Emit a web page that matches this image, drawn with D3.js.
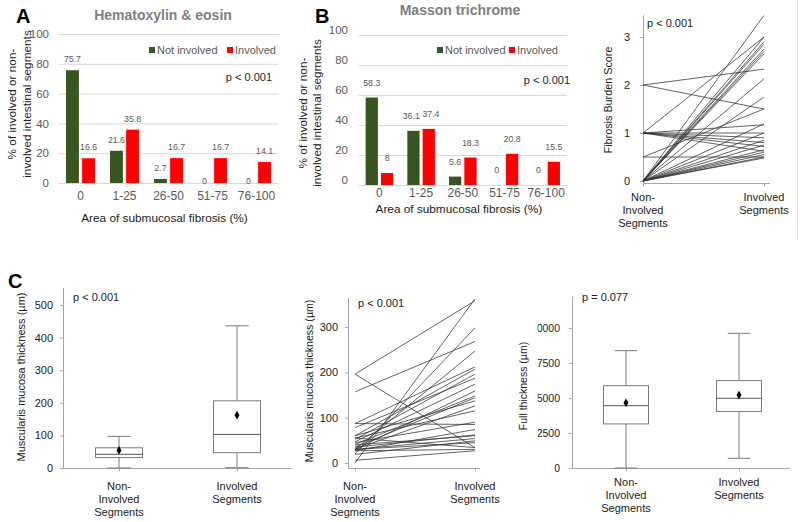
<!DOCTYPE html>
<html><head><meta charset="utf-8">
<script src="https://cdn.jsdelivr.net/npm/d3@7"></script>
<style>body{margin:0;background:#fff}svg{font-family:"Liberation Sans",Arial,sans-serif;display:block}</style>
</head><body><svg id="c" width="800" height="522"></svg>
<script>
// ---------- DATA ----------
const fibroCategories = ["0", "1-25", "26-50", "51-75", "76-100"];
const heNotInvolved = [75.7, 21.6, 2.7, 0, 0];
const heInvolved = [16.6, 35.8, 16.7, 16.7, 14.1];
const mtNotInvolved = [58.3, 36.1, 5.6, 0, 0];
const mtInvolved = [8, 37.4, 18.3, 20.8, 15.5];
const pctTicks = [0, 20, 40, 60, 80, 100];
const legendLabels = ["Not involved", "Involved"];

const segmentGroups = ["Non-Involved Segments", "Involved Segments"];

// Fibrosis burden score per patient: non-involved -> involved
const fibStart = [0,0,0,0,0,0,0,0,0,0,0,0,0,0,0,0,0,0, 0.5,0.5, 1,1,1,1,1,1,1, 2,2];
const fibEnd   = [3.45,3.0,2.9,2.85,2.75,2.7,2.65,2.13,1.75,1.19,1.0,0.85,0.75,0.65,0.6,0.55,0.5,0.48, 1.5,0.5, 3.0,1.17,1.0,0.9,0.8,0.72,0.62, 2.33,1.5];
const fibTicks = [0, 1, 2, 3];

// Muscularis mucosa thickness per patient (µm)
const mmStart = [196,196,0,157,20,30,87,60,52,78,47,30,41,35,60,30,55,87,27,40,30,19,30,55,27,6,45,35];
const mmEnd   = [358,34,362,268,298,247,212,207,196,187,174,159,148,144,137,126,115,85,74,60,54,49,45,34,30,27,90,62];
const mmLineTicks = [0, 100, 200, 300];

// Box plot summaries: [min, q1, median, q3, max, mean]
const mmBoxNonInvolved = [0, 32, 42, 62, 97, 54];
const mmBoxInvolved = [1, 47, 103, 206, 436, 162];
const mmBoxTicks = [0, 100, 200, 300, 400, 500];
const ftBoxNonInvolved = [0, 3150, 4450, 5880, 8380, 4660];
const ftBoxInvolved = [690, 4030, 4980, 6240, 9620, 5210];
const ftBoxTicks = [0, 2500, 5000, 7500, 10000];

// ---------- DRAWING ----------
const GREEN = "#38561f", RED = "#ff0000";
const svg = d3.select("#c");
svg.append("rect").attr("width", 800).attr("height", 522).attr("fill", "#fff");

function txt(g, x, y, s, o = {}) {
  return g.append("text").attr("x", x).attr("y", y).text(s)
    .attr("font-size", o.size || 11).attr("fill", o.fill || "#222")
    .attr("font-weight", o.bold ? "bold" : null)
    .attr("text-anchor", o.anchor || "start");
}
function vtxt(g, x, y, s, o = {}) {
  return g.append("text").attr("transform", `translate(${x},${y}) rotate(-90)`).text(s)
    .attr("font-size", o.size || 11).attr("fill", o.fill || "#222").attr("text-anchor", "middle");
}

function barPanel(o) {
  const g = svg.append("g");
  const x = d3.scaleBand().domain(fibroCategories).range(o.xr);
  const y = d3.scaleLinear().domain([0, 100]).range(o.yr);
  const inner = d3.scaleBand().domain(["n", "i"]).range([0, o.groupW]).paddingInner(0.2);
  g.selectAll("line.grid").data(pctTicks).join("line").attr("class", "grid")
    .attr("x1", o.xr[0]).attr("x2", o.xr[1]).attr("y1", d => y(d) + 0.5).attr("y2", d => y(d) + 0.5)
    .attr("stroke", "#d9d9d9").attr("stroke-width", 1);
  const ax = g.append("g").attr("transform", `translate(${o.tickX},0)`)
    .call(d3.axisLeft(y).tickValues(pctTicks).tickSize(0).tickPadding(0));
  ax.attr("font-family", null).attr("font-size", null);
  ax.select(".domain").remove();
  ax.selectAll("text").attr("font-size", 11.5).attr("fill", "#595959").attr("dy", o.tickDy);
  const series = [{ k: "n", v: o.notInv, c: GREEN }, { k: "i", v: o.inv, c: RED }];
  const off = (x.bandwidth() - o.groupW) / 2;
  const labFs = 8.8;
  const labW = v => String(v).length * labFs * 0.53;
  series.forEach((s, si) => {
    g.selectAll(null).data(fibroCategories).join("rect")
      .attr("x", d => x(d) + off + inner(s.k)).attr("width", inner.bandwidth())
      .attr("y", (d, i) => y(s.v[i])).attr("height", (d, i) => y(0) - y(s.v[i]))
      .attr("fill", s.c);
    g.selectAll(null).data(fibroCategories).join("text")
      .attr("x", (d, i) => {
        const cx = x(d) + off + inner(s.k) + inner.bandwidth() / 2;
        // push apart labels of the same group when they would collide
        const ty = v => v === 0 ? y(0) + o.zeroDy : y(v) - o.labOff;
        const a = series[0].v[i], b = series[1].v[i];
        const need = (labW(a) + labW(b)) / 2 + 1, dist = inner.step();
        const sameRow = Math.abs(ty(a) - ty(b)) < 9;
        const push = sameRow && need > dist ? (need - dist) / 2 : 0;
        return cx + (si === 0 ? -push : push);
      })
      .attr("y", (d, i) => s.v[i] === 0 ? y(0) + o.zeroDy : y(s.v[i]) - o.labOff)
      .attr("text-anchor", "middle").attr("font-size", labFs).attr("fill", "#595959")
      .text((d, i) => s.v[i]);
  });
  const xa = g.append("g").attr("transform", `translate(0,${o.catY})`)
    .call(d3.axisBottom(x).tickSize(0).tickPadding(0));
  xa.attr("font-family", null).attr("font-size", null);
  xa.select(".domain").remove();
  xa.selectAll("text").attr("font-size", 12).attr("fill", "#595959").attr("dy", 0);
  txt(g, (o.xr[0] + o.xr[1]) / 2 - 4, o.xTitleY, "Area of submucosal fibrosis (%)", { size: 11.8, anchor: "middle" });
  vtxt(g, o.yt1, o.ytY, "% of involved or non-", { size: 11.8 });
  vtxt(g, o.yt2, o.ytY, "involved intestinal segments", { size: 11.8 });
  txt(g, o.titleX, o.titleY, o.title, { size: 14, bold: true, fill: "#7f7f7f", anchor: "middle" });
  txt(g, o.letterX, o.letterY, o.letter, { size: 20, bold: true, fill: "#000" });
  // legend
  [[GREEN, legendLabels[0], o.legX1], [RED, legendLabels[1], o.legX2]].forEach(([c, l, lx]) => {
    g.append("rect").attr("x", lx).attr("y", o.legY - 7).attr("width", 6).attr("height", 6).attr("fill", c);
    txt(g, lx + 8, o.legY, l, { size: 11, fill: "#595959" });
  });
  txt(g, o.pX, o.pY, "p < 0.001", { size: 11, fill: "#222", anchor: "end" });
}

barPanel({ xr: [58.5, 278.5], yr: [183, 34], groupW: 29, tickX: 49, tickDy: "0.32em",
  notInv: heNotInvolved, inv: heInvolved, labOff: 8, zeroDy: 1, catY: 200, xTitleY: 222,
  yt1: 16, yt2: 31, ytY: 104, title: "Hematoxylin & eosin", titleX: 163, titleY: 20,
  letter: "A", letterX: 16, letterY: 23, legX1: 149, legX2: 227, legY: 54, pX: 272, pY: 81 });
barPanel({ xr: [358.6, 567], yr: [185, 35], groupW: 27.6, tickX: 348, tickDy: "-0.1em",
  notInv: mtNotInvolved, inv: mtInvolved, labOff: 12, zeroDy: -12, catY: 197, xTitleY: 213,
  yt1: 307, yt2: 321, ytY: 113, title: "Masson trichrome", titleX: 460, titleY: 15,
  letter: "B", letterX: 315, letterY: 23, legX1: 437, legX2: 509, legY: 54, pX: 570, pY: 84 });

function splitLabel(s) { return s.replace("-", "-\n").split(/[\n ]/); }

function axesFrame(g, o, y) {
  const ax = g.append("g").attr("transform", `translate(${o.axX},0)`)
    .call(d3.axisLeft(y).tickValues(o.ticks).tickSize(3).tickPadding(o.tickPad).tickSizeOuter(0)
      .tickFormat(d3.format("d")));
  ax.attr("font-family", null).attr("font-size", null);
  ax.select(".domain").remove();
  ax.selectAll("line").attr("stroke", "#a6a6a6");
  ax.selectAll("text").attr("font-size", o.tickSize || 11).attr("fill", "#222");
  if (o.clipX) {
    const id = "clip" + Math.round(o.axX);
    svg.append("clipPath").attr("id", id).append("rect")
      .attr("x", o.clipX - o.axX).attr("y", 0).attr("width", 300).attr("height", 522);
    ax.attr("clip-path", `url(#${id})`);
  }
  g.append("line").attr("x1", o.axX + 0.5).attr("x2", o.axX + 0.5).attr("y1", o.axTop).attr("y2", o.axBase)
    .attr("stroke", "#a6a6a6");
  g.append("line").attr("x1", o.axX).attr("x2", o.xEnd).attr("y1", o.axBase + 0.5).attr("y2", o.axBase + 0.5)
    .attr("stroke", "#a6a6a6");
  const x = d3.scalePoint().domain(segmentGroups).range(o.xr);
  const xa = g.append("g").attr("transform", `translate(0,${o.axBase})`)
    .call(d3.axisBottom(x).tickSize(3).tickFormat(""));
  xa.select(".domain").remove();
  xa.selectAll("line").attr("stroke", "#a6a6a6");
  segmentGroups.forEach(s => {
    splitLabel(s).forEach((w, i) => txt(g, x(s), o.labY + i * 13, w, { size: 11, anchor: "middle" }));
  });
  vtxt(g, o.ytX, o.ytY, o.yTitle, { size: o.ytSize || 11 });
  txt(g, o.pX, o.pY, o.pText, { size: 11 });
  return x;
}

function linePanel(o) {
  const g = svg.append("g");
  const y = d3.scaleLinear().domain(o.yd).range(o.yr);
  const x = axesFrame(g, o, y);
  const line = d3.line().x(d => d[0]).y(d => d[1]);
  g.selectAll("path.l").data(o.start.map((s, i) => [[x(segmentGroups[0]), y(s)], [x(segmentGroups[1]), y(o.end[i])]]))
    .join("path").attr("class", "l").attr("d", line)
    .attr("fill", "none").attr("stroke", "#333").attr("stroke-width", 0.9).attr("stroke-opacity", 0.85);
}

linePanel({ axX: 643, axTop: 15, axBase: 183, xEnd: 770, xr: [643, 764], yd: [0, 3.5], yr: [181, 13],
  ticks: fibTicks, tickPad: 10, start: fibStart, end: fibEnd, labY: 201,
  ytX: 612, ytY: 100, yTitle: "Fibrosis Burden Score", ytSize: 10.8, pX: 647, pY: 27, pText: "p < 0.001" });
linePanel({ axX: 348, axTop: 298, axBase: 468, xEnd: 480, xr: [355, 475], yd: [0, 364], yr: [463, 298],
  ticks: mmLineTicks, tickPad: 7, start: mmStart, end: mmEnd, labY: 490,
  ytX: 313, ytY: 381, yTitle: "Muscularis mucosa thickness (µm)", ytSize: 10.6, pX: 358, pY: 307, pText: "p < 0.001" });

function boxPanel(o) {
  const g = svg.append("g");
  const y = d3.scaleLinear().domain(o.yd).range(o.yr);
  const x = axesFrame(g, o, y);
  [o.non, o.inv].forEach((b, i) => {
    const cx = x(segmentGroups[i]), w = o.boxW, cw = w / 2;
    const [mn, q1, md, q3, mx, mean] = b;
    const st = "#7a7a7a";
    g.append("line").attr("x1", cx).attr("x2", cx).attr("y1", y(q3)).attr("y2", y(mx)).attr("stroke", st);
    g.append("line").attr("x1", cx).attr("x2", cx).attr("y1", y(q1)).attr("y2", y(mn)).attr("stroke", st);
    [mn, mx].forEach(v => g.append("line").attr("x1", cx - cw / 2).attr("x2", cx + cw / 2)
      .attr("y1", y(v)).attr("y2", y(v)).attr("stroke", st));
    g.append("rect").attr("x", cx - w / 2).attr("width", w).attr("y", y(q3)).attr("height", y(q1) - y(q3))
      .attr("fill", "#fff").attr("stroke", st);
    g.append("line").attr("x1", cx - w / 2).attr("x2", cx + w / 2).attr("y1", y(md)).attr("y2", y(md)).attr("stroke", "#555");
    g.append("path").attr("d", d3.symbol(d3.symbolDiamond, 22)())
      .attr("transform", `translate(${cx},${y(mean)})`).attr("fill", "#000");
  });
}

boxPanel({ axX: 63, axTop: 288, axBase: 468, xEnd: 292, xr: [119, 237], yd: [0, 552], yr: [468, 288],
  ticks: mmBoxTicks, tickPad: 7, non: mmBoxNonInvolved, inv: mmBoxInvolved, boxW: 47, labY: 490,
  ytX: 25, ytY: 377, yTitle: "Muscularis mucosa thickness (µm)", ytSize: 11, pX: 73, pY: 301, pText: "p < 0.001" });
boxPanel({ axX: 572, axTop: 297, axBase: 468, xEnd: 790, xr: [626, 739], yd: [0, 12214], yr: [468, 297],
  ticks: ftBoxTicks, tickPad: 9, tickSize: 10.5, clipX: 537.5, non: ftBoxNonInvolved, inv: ftBoxInvolved, boxW: 45, labY: 486,
  ytX: 527, ytY: 386, yTitle: "Full thickness (µm)", ytSize: 10.5, pX: 582, pY: 301, pText: "p = 0.077" });

txt(svg, 8, 288, "C", { size: 20, bold: true, fill: "#000" });
// faint panel edges
svg.append("line").attr("x1", 797.5).attr("x2", 797.5).attr("y1", 0).attr("y2", 240).attr("stroke", "#e0e0e0");
</script></body></html>
